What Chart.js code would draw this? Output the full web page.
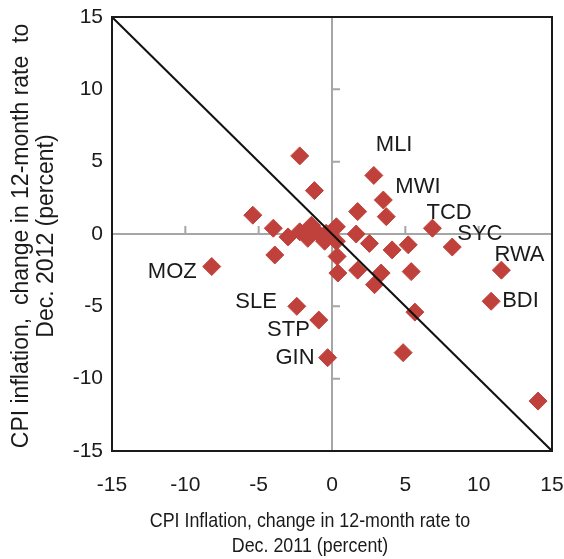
<!DOCTYPE html>
<html>
<head>
<meta charset="utf-8">
<script src="https://cdn.jsdelivr.net/npm/chart.js@4/dist/chart.umd.min.js"></script>
<style>
  html, body { margin: 0; padding: 0; background: #fff; }
  #wrap { width: 564px; height: 559px; position: relative; }
</style>
</head>
<body>
<div id="wrap"><canvas id="myChart"></canvas></div>
<script>
// change in 12-month CPI rate to Dec. 2011 (x) and to Dec. 2012 (y), percent
const inflation2011 = [-2.2, -1.2, -5.4, -4.0, -3.9, -3.0, -2.2, -1.4, -1.65, -0.95, -0.4, -0.5, 0.3, 0.3,
  -8.2, -2.4, -0.9, -0.3, 2.85, 3.5, 1.75, 3.7, 6.85, 1.65, 2.55, 4.1, 5.2, 8.2,
  0.35, 0.4, 1.75, 3.35, 2.9, 5.4, 5.65, 11.55, 10.85, 4.85, 14.05];
const inflation2012 = [5.4, 3.0, 1.3, 0.4, -1.45, -0.2, 0.15, 0.6, -0.3, 0.05, 0.05, -0.5, 0.5, -0.5,
  -2.25, -5.0, -5.95, -8.55, 4.05, 2.35, 1.55, 1.2, 0.4, 0.0, -0.65, -1.1, -0.75, -0.9,
  -1.55, -2.7, -2.5, -2.7, -3.5, -2.6, -5.4, -2.5, -4.65, -8.2, -11.55];
const countries = ['', '', '', '', '', '', '', '', '', '', '', '', '', '',
  'MOZ', 'SLE', 'STP', 'GIN', 'MLI', 'MWI', '', '', 'TCD', '', '', '', '', 'SYC',
  '', '', '', '', '', '', '', 'RWA', 'BDI', '', ''];
const diagX = [-15, 15];
const diagY = [15, -15];
const tickValues = [-15, -10, -5, 0, 5, 10, 15];

const xTitle = ['CPI Inflation, change in 12-month rate to', 'Dec. 2011 (percent)'];
const yTitle = ['CPI inflation,  change in 12-month rate  to', 'Dec. 2012 (percent)'];

const sans = '"Liberation Sans", Arial, sans-serif';

// where each country label sits relative to its marker
const labelPos = {
  MLI: [2, -30, 'left'], MWI: [12, -13, 'left'], TCD: [-6, -15, 'left'],
  SYC: [5, -13, 'left'], RWA: [-7, -15, 'left'], BDI: [11, 0, 'left'],
  MOZ: [-15, 5, 'right'], SLE: [-20, -4, 'right'], STP: [-9, 10, 'right'],
  GIN: [-13, 0, 'right']
};

const frame = {
  id: 'frame',
  beforeDatasetsDraw(chart) {
    const c = chart.ctx, a = chart.chartArea;
    const xs = chart.scales.x, ys = chart.scales.y;
    const x0 = xs.getPixelForValue(0), y0 = ys.getPixelForValue(0);
    c.save();
    c.strokeStyle = '#a6a6a6';
    c.lineWidth = 2;
    c.beginPath();
    c.moveTo(x0, a.top); c.lineTo(x0, a.bottom);
    c.moveTo(a.left, y0); c.lineTo(a.right, y0);
    tickValues.forEach(v => {
      const py = ys.getPixelForValue(v);
      c.moveTo(x0, py); c.lineTo(x0 + 8, py);
      const px = xs.getPixelForValue(v);
      c.moveTo(px, y0); c.lineTo(px, y0 - 8);
    });
    c.stroke();
    c.restore();
  },
  afterDraw(chart) {
    const c = chart.ctx, a = chart.chartArea;
    c.save();
    c.strokeStyle = '#1a1a1a';
    c.lineWidth = 2;
    c.strokeRect(a.left, a.top, a.right - a.left, a.bottom - a.top);

    // country labels
    const meta = chart.getDatasetMeta(1);
    c.fillStyle = '#1a1a1a';
    c.font = '22px ' + sans;
    c.textBaseline = 'middle';
    countries.forEach((name, i) => {
      if (!name) return;
      const p = meta.data[i];
      const [dx, dy, al] = labelPos[name];
      c.textAlign = al;
      c.fillText(name, p.x + dx, p.y + dy);
    });

    // axis titles (squeezed a bit, the original uses a narrow face)
    c.textAlign = 'center';
    c.save();
    c.font = '21px ' + sans;
    c.translate(310, 0);
    c.scale(0.85, 1);
    c.fillText(xTitle[0], 0, 521);
    c.fillText(xTitle[1], 0, 546);
    c.restore();
    c.font = '23px ' + sans;
    c.translate(22, 236);
    c.rotate(-Math.PI / 2);
    c.fillText(yTitle[0], 0, 0);
    c.fillText(yTitle[1], 0, 25);
    c.restore();
  }
};

var ctx = document.getElementById('myChart');
var myChart = new Chart(ctx, {
  type: 'scatter',
  data: {
    datasets: [{
      type: 'line',
      data: diagX.map((x, i) => ({x: x, y: diagY[i]})),
      borderColor: '#111',
      borderWidth: 2,
      pointRadius: 0,
      fill: false
    }, {
      data: inflation2011.map((x, i) => ({x: x, y: inflation2012[i]})),
      pointStyle: 'rectRot',
      pointRadius: 9,
      backgroundColor: '#c0413b',
      borderColor: '#c0413b',
      borderWidth: 1
    }]
  },
  options: {
    responsive: true,
    maintainAspectRatio: false,
    animation: false,
    layout: { padding: { top: 17, right: 12, bottom: 0, left: 0 } },
    plugins: { legend: { display: false }, tooltip: { enabled: false } },
    scales: {
      x: {
        min: -15, max: 15,
        afterBuildTicks: s => { s.ticks = tickValues.map(v => ({value: v})); },
        afterFit: s => { s.height = 108; s.paddingLeft = 0; s.paddingRight = 0; },
        grid: { display: false, drawTicks: false },
        border: { display: false },
        ticks: { color: '#1a1a1a', font: { family: sans, size: 21 }, padding: 22, maxRotation: 0 }
      },
      y: {
        min: -15, max: 15,
        afterBuildTicks: s => { s.ticks = tickValues.map(v => ({value: v})); },
        afterFit: s => { s.width = 112; s.paddingTop = 0; s.paddingBottom = 0; },
        grid: { display: false, drawTicks: false },
        border: { display: false },
        ticks: { color: '#1a1a1a', font: { family: sans, size: 21 }, padding: 9 }
      }
    }
  },
  plugins: [frame]
});
</script>
</body>
</html>
